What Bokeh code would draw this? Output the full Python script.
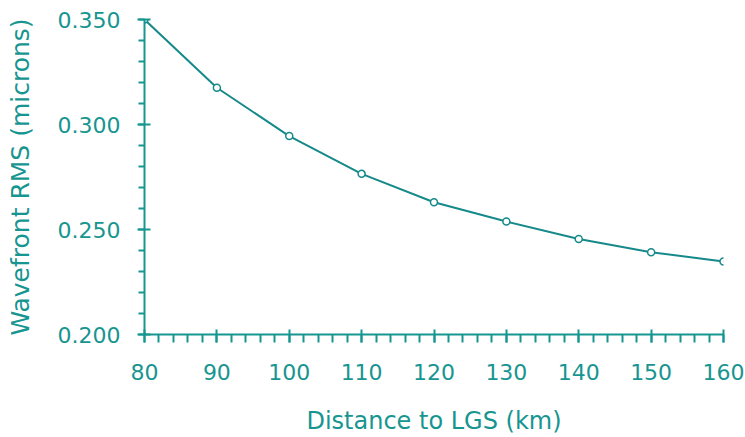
from bokeh.plotting import figure
from bokeh.models import Range1d, FixedTicker, CustomJSTickFormatter
from bokeh.embed import file_html
from bokeh.resources import INLINE

# Data
distance_km = [80, 90, 100, 110, 120, 130, 140, 150, 160]
wavefront_rms = [0.350, 0.3175, 0.2945, 0.2765, 0.263, 0.2538, 0.2455, 0.2392, 0.2348]

x_major = [80, 90, 100, 110, 120, 130, 140, 150, 160]
x_minor = [v for v in range(80, 161, 2)]
y_major = [0.200, 0.250, 0.300, 0.350]
y_minor = [round(0.200 + 0.01 * i, 3) for i in range(16)]

TEAL = "#179590"
LINE = "#16898a"
FONT = "DejaVu Sans"

p = figure(width=745, height=437, output_backend="svg", toolbar_location=None,
           x_range=Range1d(80, 160), y_range=Range1d(0.200, 0.350),
           min_border_left=144, min_border_right=22, min_border_top=19, min_border_bottom=100)
p.outline_line_color = None
p.xgrid.visible = False
p.ygrid.visible = False
p.background_fill_color = "white"
p.border_fill_color = "white"

p.line(distance_km, wavefront_rms, line_color=LINE, line_width=2)
p.scatter(distance_km, wavefront_rms, marker="circle", size=7, line_color=LINE,
          line_width=1.5, fill_color="white")

for ax in (p.xaxis[0], p.yaxis[0]):
    ax.axis_line_color = TEAL
    ax.axis_line_width = 2
    ax.major_tick_line_color = TEAL
    ax.major_tick_line_width = 2
    ax.minor_tick_line_color = TEAL
    ax.minor_tick_line_width = 2
    ax.major_label_text_color = TEAL
    ax.major_label_text_font = FONT
    ax.major_label_text_font_size = "22px"
    ax.axis_label_text_color = TEAL
    ax.axis_label_text_font = FONT
    ax.axis_label_text_font_style = "normal"

xa = p.xaxis[0]
xa.ticker = FixedTicker(ticks=x_major, minor_ticks=x_minor)
xa.major_tick_in = 5
xa.major_tick_out = 8
xa.minor_tick_in = 0
xa.minor_tick_out = 8
xa.major_label_standoff = 21
xa.axis_label = "Distance to LGS (km)"
xa.axis_label_text_font_size = "24px"
xa.axis_label_standoff = 24

ya = p.yaxis[0]
ya.ticker = FixedTicker(ticks=y_major, minor_ticks=y_minor)
ya.formatter = CustomJSTickFormatter(code="return tick.toFixed(3);")
ya.major_tick_in = 6
ya.major_tick_out = 7
ya.minor_tick_in = 0
ya.minor_tick_out = 6
ya.major_label_standoff = 17
ya.axis_label = "Wavefront RMS (microns)"
ya.axis_label_text_font_size = "25px"
ya.axis_label_standoff = 20

open("out.html", "w").write(file_html(p, INLINE))
